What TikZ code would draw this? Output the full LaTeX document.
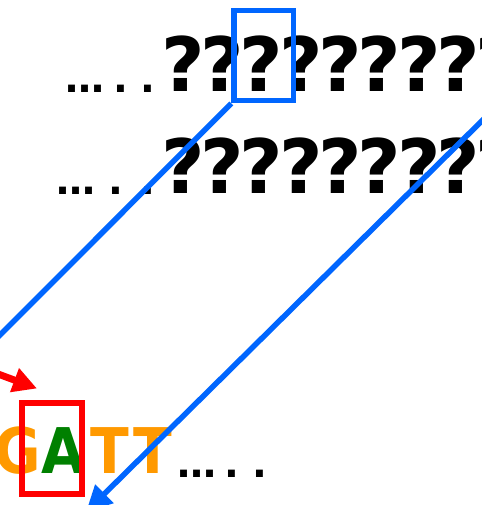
\documentclass[tikz,border=0pt]{standalone}
\usepackage{fontspec}
\setmainfont{DejaVu Sans}
\usetikzlibrary{arrows.meta}
\definecolor{qblue}{HTML}{0066FF}
\definecolor{qorange}{HTML}{FF9900}
\definecolor{qgreen}{HTML}{008000}
\definecolor{qred}{HTML}{FF0000}
\tikzset{
  qmark/.style={inner sep=0pt, anchor=base, font=\fontsize{75}{80}\selectfont\bfseries},
  dotrow/.style={inner sep=0pt, anchor=base west, font=\fontsize{39}{42}\selectfont\bfseries},
  base/.style={inner sep=0pt, anchor=base, font=\fontsize{63}{66}\selectfont\bfseries},
  bluebox/.style={draw=qblue, line width=5.5pt, inner sep=0pt, minimum width=59.5pt, minimum height=90.4pt},
  redbox/.style={draw=qred, line width=6pt, inner sep=0pt, minimum width=60pt, minimum height=90.7pt},
  blueline/.style={draw=qblue, line width=5.5pt},
  bluearrow/.style={draw=qblue, line width=5.5pt, -{Triangle[length=26pt,width=25pt]}},
  redarrow/.style={draw=qred, line width=7pt, -{Triangle[length=24pt,width=24pt]}}
}
\newcommand{\narrowletter}[1]{\scalebox{0.9}[1]{#1}}
\begin{document}
\begin{tikzpicture}[x=1pt,y=-1pt]
\useasboundingbox (0,0) rectangle (481,505);
% top row
\node[dotrow] (d1) at (65.5,93) {…\hspace{9pt}.\hspace{12pt}.};
\foreach \k in {0,...,8}{
  \node[qmark] (qa\k) at ({183+39.3*\k},92) {?};
}
% second row
\node[dotrow] (d2) at (56.5,194) {…\hspace{13pt}.\hspace{17pt}.};
\foreach \k in {0,...,8}{
  \node[qmark] (qb\k) at ({183+39.3*\k},193) {?};
}
% bases
\node[base, text=qorange] (g) at (18,473) {\narrowletter{G}};
\node[base, text=qgreen] (a) at (63,473) {\narrowletter{A}};
\node[base, text=qorange] (t1) at (110,473) {\narrowletter{T}};
\node[base, text=qorange] (t2) at (153,473) {\narrowletter{T}};
\node[dotrow] (d3) at (177.5,477) {…\hspace{8pt}.\hspace{13pt}.};
% boxes
\node[bluebox] (bb) at (263.8,55.5) {};
\node[redbox] (rb) at (52,448.4) {};
% connectors
\coordinate (l1end) at (-20,355);
\draw[blueline] (bb.south west) -- (l1end);
\coordinate (l2start) at (500,103);
\coordinate (l2tip) at (86,512);
\draw[bluearrow] (l2start) -- (l2tip);
\coordinate (r0) at (-10,371);
\coordinate (r1) at (37,388.5);
\draw[redarrow] (r0) -- (r1);
\end{tikzpicture}
\end{document}
